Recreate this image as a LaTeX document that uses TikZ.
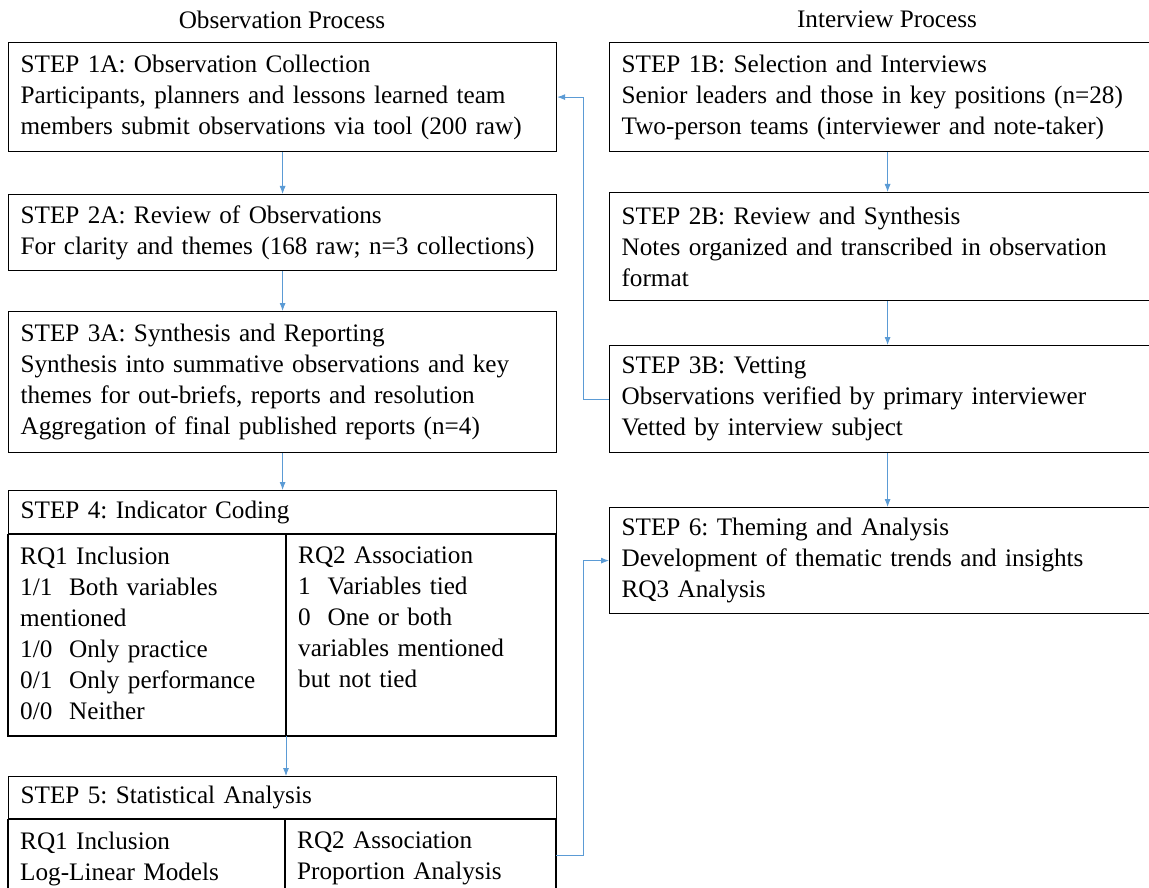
\documentclass[tikz,border=0pt]{standalone}
\usepackage{fontspec}
\setmainfont{Liberation Serif}
\usetikzlibrary{arrows.meta}
\definecolor{linkblue}{HTML}{5B9BD5}

\begin{document}
\begin{tikzpicture}[x=1pt,y=-1pt,
	font=\fontsize{25.2}{31}\selectfont\frenchspacing,
	stepbox/.style={draw,line width=1.2pt,anchor=north west,align=left,
		inner xsep=12pt,inner ysep=0pt,text width=524pt,minimum width=548pt},
	widebox/.style={stepbox,text width=532pt,minimum width=556pt},
	colbox/.style={anchor=north west,align=left,inner xsep=12pt,inner ysep=14pt,text width=254pt},
	frame/.style={line width=1.2pt},
	link/.style={draw=linkblue,line width=0.8pt,-{Latex[length=8pt,width=6pt]}}]
		\useasboundingbox (0,0) rectangle (1149,888);
		\clip (0,0) rectangle (1149,888);
		% titles
		\node (obs) at (282,20) {Observation Process};
		\node (int) at (887,19) {Interview Process};
		% observation side
		\node[stepbox,minimum height=109pt] (s1a) at (8,42) {STEP 1A: Observation Collection\\
			Participants, planners and lessons learned team\\
			members submit observations via tool (200 raw)};
		\node[stepbox,minimum height=76pt] (s2a) at (8,194) {STEP 2A: Review of Observations\\
			For clarity and themes (168 raw; n=3 collections)};
		\node[stepbox,minimum height=141pt] (s3a) at (8,311) {STEP 3A: Synthesis and Reporting\\
			Synthesis into summative observations and key\\
			themes for out-briefs, reports and resolution\\
			Aggregation of final published reports (n=4)};
		\node[stepbox,minimum height=43pt] (s4) at (8,490) {STEP 4: Indicator Coding};
		\node[colbox] (s4l) at (8,533) {RQ1 Inclusion\\
			1/1\ \ Both variables\\
			mentioned\\
			1/0\ \ Only practice\\
			0/1\ \ Only performance\\
			0/0\ \ Neither};
		\node[colbox] (s4r) at (286,533) {RQ2 Association\\
			1\ \ Variables tied\\
			0\ \ One or both\\
			variables mentioned\\
			but not tied};
		\draw[frame] (s4.south west) rectangle (556,736);
		\draw[frame] (286,533) -- (286,736);
		\coordinate (s4out) at (286,736);
		\node[stepbox,minimum height=42pt] (s5) at (8,776) {STEP 5: Statistical Analysis};
		\node[colbox] (s5l) at (8,818) {RQ1 Inclusion\\Log-Linear Models};
		\node[colbox] (s5r) at (285,818) {RQ2 Association\\Proportion Analysis};
		\draw[frame] (s5.south west) rectangle (556,930);
		\draw[frame] (285,818) -- (285,930);
		\coordinate (s5out) at (556,855);
		% interview side
		\node[widebox,minimum height=109pt] (s1b) at (609,42) {STEP 1B: Selection and Interviews\\
			Senior leaders and those in key positions (n=28)\\
			Two-person teams (interviewer and note-taker)};
		\node[widebox,minimum height=108pt] (s2b) at (609,192) {STEP 2B: Review and Synthesis\\
			Notes organized and transcribed in observation\\
			format};
		\node[widebox,minimum height=107pt] (s3b) at (609,345) {STEP 3B: Vetting\\
			Observations verified by primary interviewer\\
			Vetted by interview subject};
		\node[widebox,minimum height=106pt] (s6) at (609,507) {STEP 6: Theming and Analysis\\
			Development of thematic trends and insights\\
			RQ3 Analysis};
		% connectors
		\draw[link] (s1a) -- (s2a);
		\draw[link] (s2a) -- (s3a);
		\draw[link] (s3a) -- (s4);
		\draw[link] (s4out) -- (s4out |- s5.north);
		\draw[link] (s1b) -- (s2b);
		\draw[link] (s2b) -- (s3b);
		\draw[link] (s3b) -- (s6);
		\draw[link] (s3b.west) -- ++(-26,0) |- (s1a.east);
		\draw[link] (s5out) -- ++(27,0) |- (s6.west);
\end{tikzpicture}
\end{document}
